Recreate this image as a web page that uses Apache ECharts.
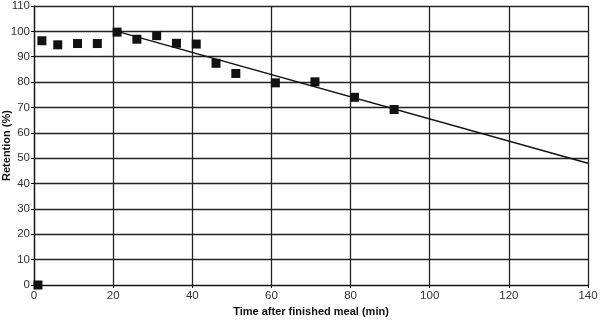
<!DOCTYPE html>
<html>
<head>
<meta charset="utf-8">
<script src="https://cdn.jsdelivr.net/npm/echarts@6/dist/echarts.min.js"></script>
<style>
  html, body { margin: 0; padding: 0; background: #fff; }
  #chart { width: 600px; height: 320px; }
</style>
</head>
<body>
<div id="chart"></div>
<script>
// measured retention points
var times = [1, 2, 6, 11, 16, 21, 26, 31, 36, 41, 46, 51, 61, 71, 81, 91];
var retention = [0, 96.3, 94.7, 95.2, 95.2, 99.7, 96.9, 98.3, 95.3, 95.0, 87.4, 83.4, 79.7, 80.1, 74.0, 69.2];
// fitted line end points
var fitTimes = [21, 140];
var fitValues = [100, 48];

var chart = echarts.init(document.getElementById('chart'));

var points = times.map(function (t, i) { return [t, retention[i]]; });
var fit = fitTimes.map(function (t, i) { return [t, fitValues[i]]; });

var labelFont = { color: '#333', fontSize: 11.5, fontFamily: 'Liberation Sans, Arial, sans-serif' };

chart.setOption({
    animation: false,
    backgroundColor: '#fff',
    grid: { left: 34, right: 12, top: 6, bottom: 35, containLabel: false, outerBoundsMode: 'none' },
    xAxis: {
        type: 'value',
        min: 0, max: 140, interval: 20,
        name: 'Time after finished meal (min)',
        nameLocation: 'middle',
        nameGap: 21,
        nameMoveOverlap: false,
        nameTextStyle: { color: '#111', fontSize: 11, fontWeight: 'bold', fontFamily: 'Liberation Sans, Arial, sans-serif' },
        axisLine: { lineStyle: { color: '#111', width: 1.2 } },
        axisTick: { show: true, length: 3, lineStyle: { color: '#111' } },
        axisLabel: Object.assign({ margin: 5 }, labelFont),
        splitLine: { show: true, lineStyle: { color: '#222', width: 1.3 } }
    },
    yAxis: {
        type: 'value',
        min: 0, max: 110, interval: 10,
        name: 'Retention (%)',
        nameLocation: 'middle',
        nameGap: 22,
        nameMoveOverlap: false,
        nameTextStyle: { color: '#111', fontSize: 11, fontWeight: 'bold', fontFamily: 'Liberation Sans, Arial, sans-serif' },
        axisLine: { show: true, lineStyle: { color: '#111', width: 1.2 } },
        axisTick: { show: true, length: 3, lineStyle: { color: '#111' } },
        axisLabel: Object.assign({ margin: 4 }, labelFont),
        splitLine: { show: true, lineStyle: { color: '#222', width: 1.3 } }
    },
    series: [
        {
            name: 'fit',
            type: 'line',
            data: fit,
            symbol: 'none',
            lineStyle: { color: '#111', width: 1.4 },
            z: 3
        },
        {
            name: 'retention',
            type: 'scatter',
            data: points,
            symbol: 'rect',
            symbolSize: 9,
            itemStyle: { color: '#111', opacity: 1 },
            clip: false,
            z: 4
        }
    ]
});
</script>
</body>
</html>
